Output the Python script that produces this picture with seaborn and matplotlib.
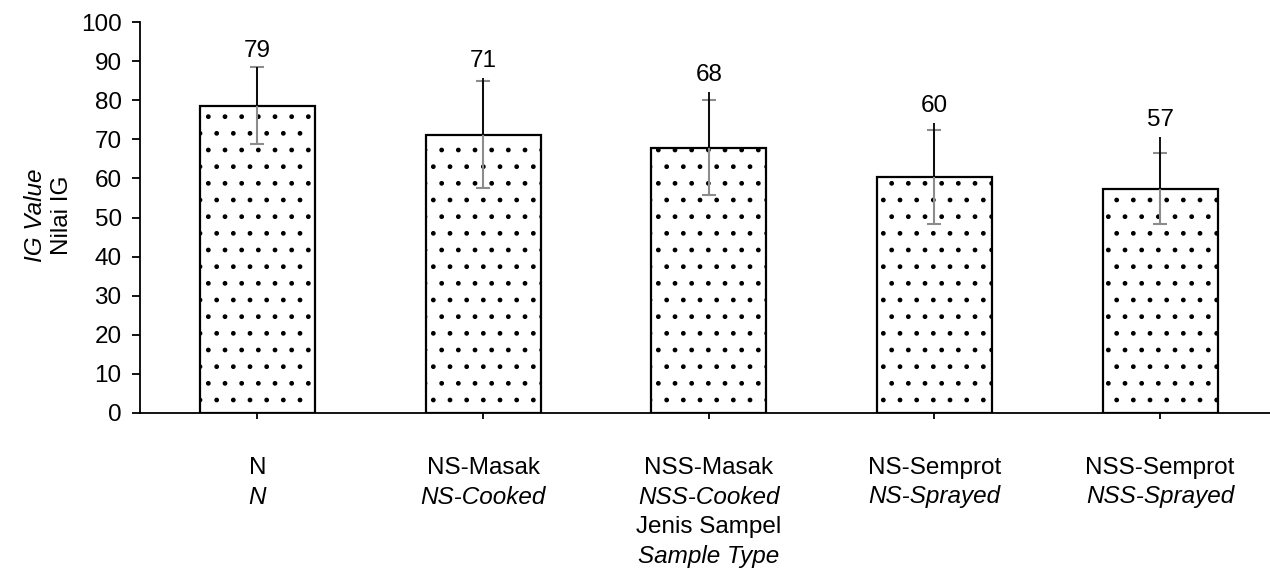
import matplotlib
matplotlib.use("Agg")
import matplotlib.pyplot as plt
import matplotlib.transforms as mtransforms
import seaborn as sns
import pandas as pd
import numpy as np

categories = ["N", "NS-Masak", "NSS-Masak", "NS-Semprot", "NSS-Semprot"]
categories_en = ["N", "NS-Cooked", "NSS-Cooked", "NS-Sprayed", "NSS-Sprayed"]
means = [78.6, 71.2, 67.9, 60.3, 57.4]
sd_gray = [9.8, 13.6, 12.1, 12.0, 9.1]
sd_upper_black = [9.8, 14.5, 14.2, 13.9, 13.2]
yticks = [0, 10, 20, 30, 40, 50, 60, 70, 80, 90, 100]

sns.set_style("white")
plt.rcParams['font.family'] = ['Liberation Sans', 'DejaVu Sans']
plt.rcParams['hatch.linewidth'] = 1.0
plt.rcParams['hatch.color'] = 'black'
plt.rcParams['text.color'] = 'black'
plt.rcParams['xtick.color'] = 'black'
plt.rcParams['ytick.color'] = 'black'
plt.rcParams['axes.labelcolor'] = 'black'

FS = 17.5

fig = plt.figure(figsize=(12.7, 5.72), dpi=100)
ax = fig.add_axes([0.110, 0.278, 0.89, 0.6835])

df = pd.DataFrame({"cat": categories, "val": means})
sns.barplot(data=df, x="cat", y="val", ax=ax, color="white", width=0.51,
            edgecolor="black", linewidth=1.6, errorbar=None, saturation=1)
for p in ax.patches:
    p.set_hatch(".")
    p.set_facecolor("white")
    p.set_edgecolor("black")

x = np.arange(len(categories))
# gray symmetric error bars
ax.errorbar(x, means, yerr=sd_gray, fmt="none", ecolor="#8c8c8c",
            elinewidth=1.5, capsize=5, capthick=1.5, zorder=4)
# black upper-only lines
ax.errorbar(x, means, yerr=[np.zeros(len(means)), sd_upper_black], fmt="none",
            ecolor="black", elinewidth=1.3, capsize=0, zorder=5)

for xi, m, up in zip(x, means, sd_upper_black):
    ax.annotate(f"{m:.0f}", (xi, m + up), xytext=(0, 12), textcoords="offset points",
                ha="center", va="center", fontsize=FS)

ax.set_ylim(0, 100)
ax.set_yticks(yticks)
ax.set_yticklabels([str(t) for t in yticks], fontsize=FS)
ax.set_xlim(-0.522, 4.487)
ax.set_xticks(x)
ax.set_xticklabels([])
ax.set_xlabel("")
ax.set_ylabel("")
ax.tick_params(axis="y", direction="out", length=6, width=1.3, pad=7, left=True, colors="black")
ax.tick_params(axis="x", direction="out", length=4, width=1.3, bottom=True)
for s in ["top", "right"]:
    ax.spines[s].set_visible(False)
for s in ["left", "bottom"]:
    ax.spines[s].set_color("black")
    ax.spines[s].set_linewidth(1.3)

trans = mtransforms.blended_transform_factory(ax.transData, fig.transFigure)
for xi, c1, c2 in zip(x, categories, categories_en):
    fig.text(xi, 1 - 468 / 572, c1, transform=trans, ha="center", va="center", fontsize=FS)
    fig.text(xi, 1 - 497 / 572, c2, transform=trans, ha="center", va="center", fontsize=FS, style="italic")

fig.text(2, 1 - 527 / 572, "Jenis Sampel", transform=trans, ha="center", va="center", fontsize=FS)
fig.text(2, 1 - 557 / 572, "Sample Type", transform=trans, ha="center", va="center", fontsize=FS, style="italic")

fig.text(35 / 1270, 1 - 215 / 572, "IG Value", rotation=90, ha="center", va="center", fontsize=FS, style="italic")
fig.text(62 / 1270, 1 - 215 / 572, "Nilai IG", rotation=90, ha="center", va="center", fontsize=FS)

fig.savefig("out.png", dpi=100)
